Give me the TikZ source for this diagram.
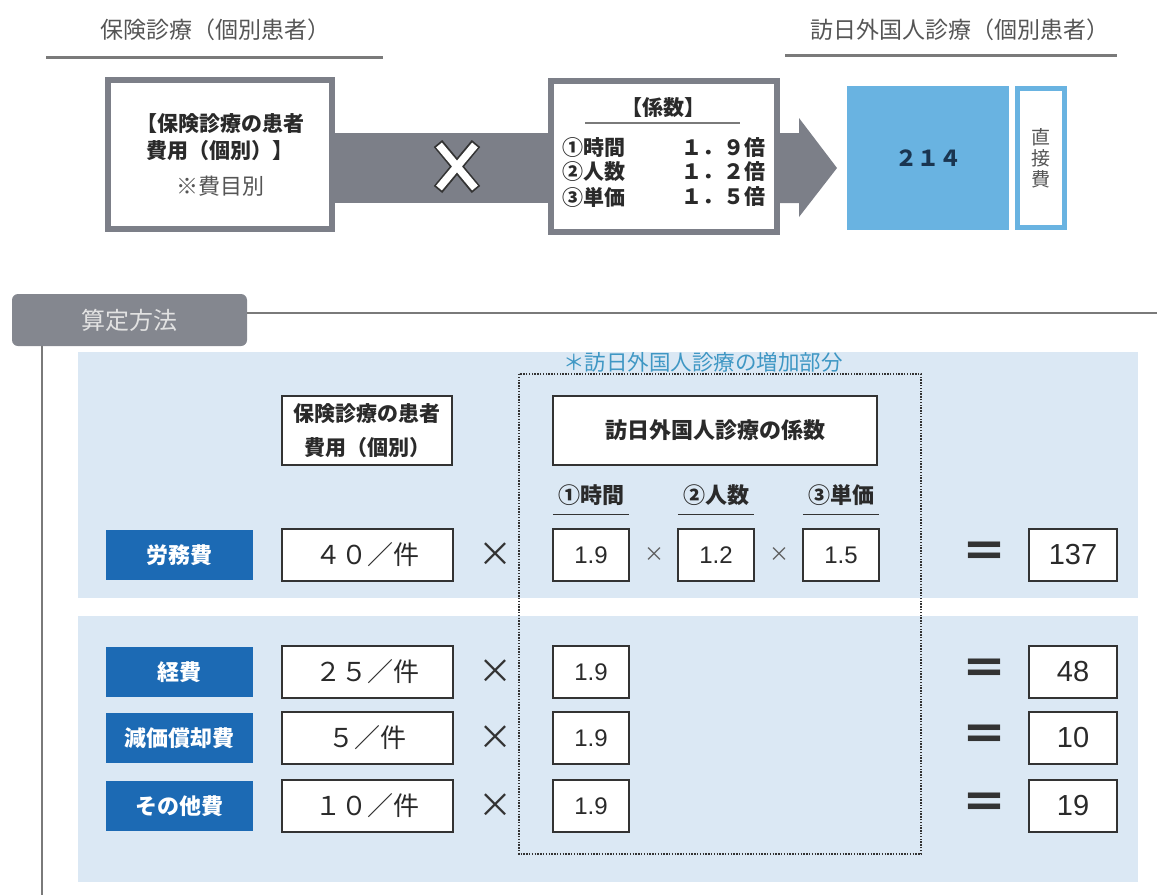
\documentclass[tikz,border=0pt]{standalone}
\usepackage{fontspec}
\usetikzlibrary{positioning,calc}

\newfontfamily\jp{Noto Sans CJK JP}
\newfontfamily\num{Liberation Sans}
\newcommand{\fsz}[1]{\fontsize{#1}{#1}\selectfont}

\definecolor{barcol}{HTML}{7C7F88}
\definecolor{hdrtxt}{HTML}{555555}
\definecolor{linegray}{HTML}{7A7A7A}
\definecolor{txtdark}{HTML}{2A2A2A}
\definecolor{topblue}{HTML}{69B3E1}
\definecolor{navy}{HTML}{1A3550}
\definecolor{tabgray}{HTML}{84878F}
\definecolor{tabtxt}{HTML}{E2E2E2}
\definecolor{panel}{HTML}{DBE8F4}
\definecolor{lblblue}{HTML}{1C6AB4}
\definecolor{notetxt}{HTML}{3F97C4}
\definecolor{boxline}{HTML}{333333}

\begin{document}
\begin{tikzpicture}[x=1pt,y=-1pt,
  hdr/.style={text=hdrtxt,font=\jp\fsz{23}},
  hline/.style={draw=linegray,line width=3pt},
  thickbox/.style={draw=barcol,line width=6pt,fill=white,inner sep=0pt},
  crow/.style={font=\jp\bfseries\fsz{21},text=txtdark,inner sep=0pt},
  secline/.style={draw=linegray,line width=2pt},
  dotbox/.style={draw=boxline,line width=1.2pt,dash pattern=on 1.4pt off 1.4pt},
  hbox/.style={draw=boxline,line width=2pt,fill=white,align=center,inner sep=0pt,text=txtdark},
  sub/.style={font=\jp\bfseries\fsz{22},text=txtdark,minimum width=76pt,minimum height=38pt,inner sep=0pt},
  uline/.style={draw=boxline,line width=1.2pt},
  lbl/.style={fill=lblblue,text=white,font=\jp\bfseries\fsz{22},minimum width=147pt,minimum height=50pt,inner sep=0pt},
  valbox/.style={draw=boxline,line width=1.6pt,fill=white,text=txtdark,font=\jp\fsz{26},minimum width=171pt,minimum height=52pt,inner sep=0pt},
  coef/.style={draw=boxline,line width=1.6pt,fill=white,text=txtdark,font=\num\fsz{24},minimum width=76pt,minimum height=52pt,inner sep=0pt},
  res/.style={coef,font=\num\fsz{29},minimum width=88pt},
  bigx/.style={font=\jp\fsz{34},text=boxline,inner sep=0pt},
  smallx/.style={font=\jp\fsz{20},text=boxline!80,inner sep=0pt},
  eq/.style={font=\jp\bfseries\fsz{46},text=boxline,inner sep=0pt}
]
  \useasboundingbox (0,0) rectangle (1157,895);

  % headings
  \node[hdr] (hleft) at (215,30) {保険診療（個別患者）};
  \draw[hline] (46,57) -- (383,57);
  \node[hdr] (hright) at (960,30) {訪日外国人診療（個別患者）};
  \draw[hline] (785,55) -- (1117,55);

  % top row
  \node[thickbox,minimum width=224pt,minimum height=149pt,align=center,
    font=\jp\bfseries\fontsize{21}{27}\selectfont,text=txtdark] (lbox) at (220,154.5)
    {【保険診療の患者\\費用（個別）】\\[9pt]\mdseries\fontsize{22}{27}\selectfont\color{hdrtxt}※費目別};
  \node[thickbox,minimum width=226pt,minimum height=151pt] (cbox) at (664,156.5) {};
  \node[crow,font=\jp\bfseries\fsz{21}] (ctitle) at (663,108) {【係数】};
  \draw[draw=linegray,line width=1.5pt] (585,123) -- (740,123);
  \foreach \y/\k/\v [count=\i] in {148/①時間/１．９倍, 172/②人数/１．２倍, 197/③単価/１．５倍} {
    \node[crow,anchor=west] (ck\i) at (562,\y) {\k};
    \node[crow,anchor=east] (cv\i) at (766,\y) {\v};
  }
  \node[fill=topblue,minimum width=162pt,minimum height=144pt,inner sep=0pt,
    font=\jp\bfseries\fsz{22},text=navy] (blue) at (928,158) {２１４};
  \node[draw=topblue,line width=5pt,fill=white,minimum width=47pt,minimum height=139pt,
    inner sep=0pt,align=center,font=\jp\fontsize{19}{21}\selectfont,text=hdrtxt] (direct) at (1041,158) {直\\接\\費};

  \coordinate (btop) at (0,133);
  \coordinate (bbot) at (0,203);
  \coordinate (tip) at (837,168);
  \fill[barcol] (lbox.east |- btop) rectangle (cbox.west |- bbot);
  \fill[barcol] (cbox.east |- btop) -- (799,133) -- (799,118) -- (tip)
    -- (799,217) -- (799,203) -- (cbox.east |- bbot) -- cycle;

  % X on the bar
  \begin{scope}[shift={(457,166.5)}]
    \draw[line width=11pt,draw=boxline] (-19,-23) -- (19,23) (19,-23) -- (-19,23);
    \draw[line width=7.5pt,white] (-18,-21.5) -- (18,21.5) (18,-21.5) -- (-18,21.5);
  \end{scope}

  % calculation
  \fill[panel] (78,352) rectangle (1138,598);
  \fill[panel] (78,616) rectangle (1138,882);
  \node[fill=tabgray,rounded corners=6pt,minimum width=235pt,minimum height=52pt,
    inner sep=0pt,font=\jp\fsz{24},text=tabtxt] (tab) at (129.5,320) {算定方法};
  \coordinate (secend) at (1157,313);
  \coordinate (vend) at (42,895);
  \draw[secline] (tab.east |- secend) -- (secend);
  \draw[secline] (tab.south -| vend) -- (vend);

  \draw[dotbox] (519,374) rectangle (921,854);
  \node[font=\jp\fsz{21.5},text=notetxt] (note) at (703,362) {＊訪日外国人診療の増加部分};

  \node[hbox,minimum width=170pt,minimum height=69pt,
    font=\jp\bfseries\fontsize{21}{34}\selectfont] (phead) at (367,430.5) {保険診療の患者\\費用（個別）};
  \node[hbox,minimum width=324pt,minimum height=69pt,
    font=\jp\bfseries\fsz{22}] (chead) at (715,430.5) {訪日外国人診療の係数};

  \foreach \x/\t [count=\i] in {591/①時間, 716/②人数, 841/③単価} {
    \node[sub] (sub\i) at (\x,495) {\t};
    \draw[uline] (sub\i.south west) -- (sub\i.south east);
  }

  % row 1
  \node[lbl] (lab1) at (179.5,555) {労務費};
  \node[valbox] (val1) at (367.5,555) {４０／件};
  \node[bigx] (x1) at (495,555) {×};
  \node[coef] (c11) at (591,555) {1.9};
  \node[smallx] (m11) at (654,555) {×};
  \node[coef] (c12) at (716,555) {1.2};
  \node[smallx] (m12) at (779,555) {×};
  \node[coef] (c13) at (841,555) {1.5};
  \node[eq] (eq1) at (984,555) {＝};
  \node[res] (r1) at (1073,555) {137};

  % rows 2-4
  \foreach \y/\k/\v/\r [count=\i from 2] in {672/経費/２５/48, 738/減価償却費/５/10, 806/その他費/１０/19} {
    \node[lbl] (lab\i) at (179.5,\y) {\k};
    \node[valbox] (val\i) at (367.5,\y) {\v／件};
    \node[bigx] (x\i) at (495,\y) {×};
    \node[coef] (c\i1) at (591,\y) {1.9};
    \node[eq] (eq\i) at (984,\y) {＝};
    \node[res] (r\i) at (1073,\y) {\r};
  }
\end{tikzpicture}
\end{document}
